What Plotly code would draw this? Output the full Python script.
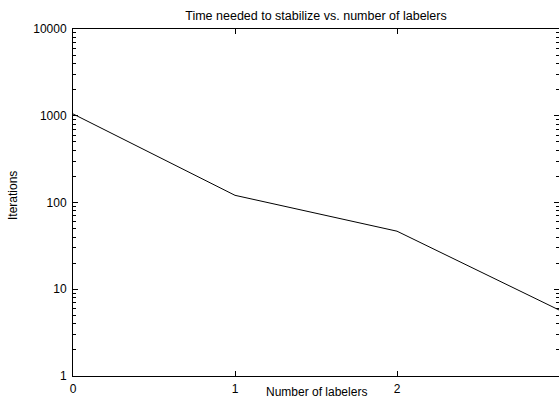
import plotly.graph_objects as go

labelers = [0, 1, 2, 3]
iterations = [1050, 121, 46.7, 5.77]
y_ticks = [1, 10, 100, 1000, 10000]
y_tick_labels = ["1", "10", "100", "1000", "10000"]
x_ticks = [0, 1, 2, 3]

minor_vals = [m * 10 ** d for d in range(0, 4) for m in range(2, 10)]

fig = go.Figure()
fig.add_trace(go.Scatter(x=labelers, y=iterations, mode="lines",
                         line=dict(color="black", width=1), showlegend=False))

font = dict(family="Liberation Sans, Arial, sans-serif", size=12, color="black")

fig.update_layout(
    width=559, height=402,
    margin=dict(l=73, r=0, t=29, b=26, autoexpand=False),
    paper_bgcolor="white", plot_bgcolor="white",
    font=font,
    title=dict(text="Time needed to stabilize vs. number of labelers",
               x=0.5, xref="paper", xanchor="center", y=1 - 16 / 402, yanchor="middle",
               font=dict(family="Liberation Sans, Arial, sans-serif", size=12.5, color="black")),
    xaxis=dict(range=[0, 3], tickvals=x_ticks, ticks="inside", ticklen=5,
               tickcolor="black", showline=True, linecolor="black", linewidth=1,
               mirror="ticks", showgrid=False, zeroline=False, automargin=False,
               ticklabelstandoff=2),
    yaxis=dict(type="log", range=[0, 4], tickvals=y_ticks, ticktext=y_tick_labels,
               ticks="inside", ticklen=5, tickcolor="black", showline=True,
               linecolor="black", linewidth=1, mirror="ticks", showgrid=False,
               zeroline=False, automargin=False, ticklabelstandoff=3,
               minor=dict(tickvals=minor_vals, ticks="inside", ticklen=3,
                          tickcolor="black", showgrid=False)),
    annotations=[
        dict(text="Number of labelers", xref="paper", yref="paper",
             x=0.5, y=-(392 - 376) / 347, xanchor="center", yanchor="middle",
             showarrow=False, font=font),
        dict(text="Iterations", xref="paper", yref="paper",
             x=-(73 - 13) / 486, y=(376 - 196) / 347, xanchor="center", yanchor="middle",
             textangle=-90, showarrow=False, font=font),
    ],
)

fig.write_html(
    "out.html",
    config={"displayModeBar": False},
    post_script="document.body.style.margin='0';document.body.style.overflow='hidden';",
)
